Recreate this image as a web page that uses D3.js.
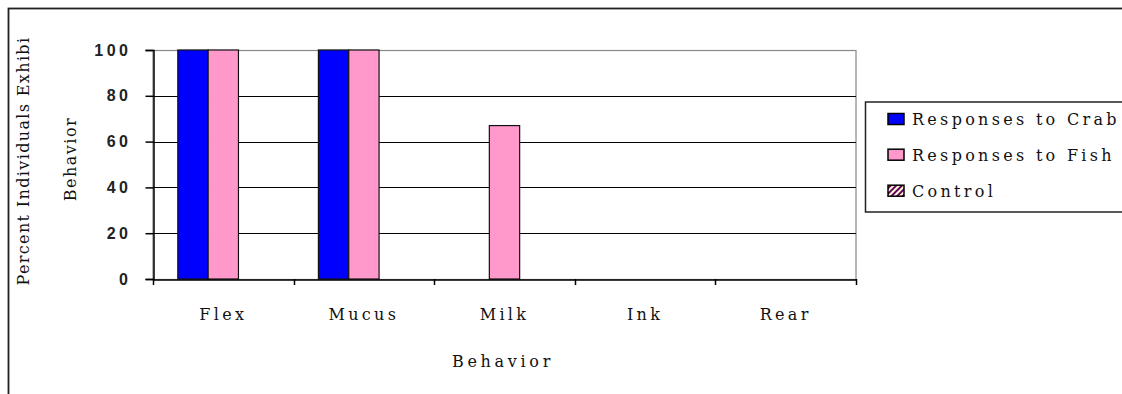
<!DOCTYPE html>
<html>
<head>
<meta charset="utf-8">
<script src="https://cdn.jsdelivr.net/npm/d3@7"></script>
<style>
  html, body { margin: 0; padding: 0; background: #fff; }
  svg { display: block; }
</style>
</head>
<body>
<svg id="chart" width="1122" height="394"></svg>
<script>
const categories = ["Flex", "Mucus", "Milk", "Ink", "Rear"];
const seriesNames = ["Responses to Crab", "Responses to Fish", "Control"];
const crabValues = [100, 100, 0, 0, 0];
const fishValues = [100, 100, 67, 0, 0];
const controlValues = [0, 0, 0, 0, 0];
const yTicks = [0, 20, 40, 60, 80, 100];

const seriesValues = [crabValues, fishValues, controlValues];
const SERIF = "DejaVu Serif, serif";

const svg = d3.select("#chart");
const defs = svg.append("defs");
const pat = defs.append("pattern")
  .attr("id", "hatch").attr("patternUnits", "userSpaceOnUse")
  .attr("width", 4).attr("height", 4).attr("patternTransform", "rotate(45)");
pat.append("rect").attr("width", 4).attr("height", 4).attr("fill", "#FFFFCC");
pat.append("rect").attr("width", 2).attr("height", 4).attr("fill", "#660066");

const fills = ["#0000FF", "#FF99CC", "url(#hatch)"];

// outer chart border
svg.append("rect").attr("x", 8.5).attr("y", 8.5).attr("width", 1130).attr("height", 400)
  .attr("fill", "none").attr("stroke", "#222").attr("stroke-width", 1.8);

const pLeft = 153, pRight = 856, pTop = 50, pBottom = 279;

const x = d3.scaleBand().domain(categories).range([pLeft, pRight])
  .paddingInner(0.353).paddingOuter(0.1765);
const xs = d3.scaleBand().domain(d3.range(seriesNames.length)).range([0, x.bandwidth()]);
const y = d3.scaleLinear().domain([0, 100]).range([pBottom, pTop]);

// plot area border (gray)
svg.append("rect").attr("x", pLeft).attr("y", pTop + 0.5).attr("width", pRight - pLeft).attr("height", pBottom - pTop)
  .attr("fill", "none").attr("stroke", "#888").attr("stroke-width", 1.2);

// gridlines
svg.append("g").selectAll("line").data(yTicks.filter(t => t > 0 && t < 100)).join("line")
  .attr("x1", pLeft).attr("x2", pRight)
  .attr("y1", d => Math.round(y(d)) + 0.5).attr("y2", d => Math.round(y(d)) + 0.5)
  .attr("stroke", "#000").attr("stroke-width", 1.2);

// bars
categories.forEach((c, i) => {
  seriesValues.forEach((vals, s) => {
    const v = vals[i];
    if (v <= 0) return;
    svg.append("rect")
      .attr("x", x(c) + xs(s)).attr("width", xs.bandwidth())
      .attr("y", y(v)).attr("height", y(0) - y(v))
      .attr("fill", fills[s]).attr("stroke", "#111").attr("stroke-width", 1.2);
  });
});

// y axis
const yAxis = svg.append("g").attr("transform", `translate(${pLeft + 0.5},0)`)
  .call(d3.axisLeft(y).tickValues(yTicks).tickSize(8).tickPadding(14).tickFormat(d3.format("d")));
yAxis.select(".domain").attr("stroke", "#000").attr("stroke-width", 1.5);
yAxis.selectAll(".tick line").attr("stroke", "#000").attr("stroke-width", 1.5);
yAxis.selectAll("text").attr("font-family", "Liberation Sans, Arial, sans-serif")
  .attr("font-size", 16).attr("font-weight", "bold").attr("fill", "#222")
  .attr("letter-spacing", 3.5);

// x axis
const xAxis = svg.append("g").attr("transform", `translate(0,${pBottom + 0.5})`)
  .call(d3.axisBottom(x).tickSize(0).tickPadding(29));
xAxis.select(".domain").attr("stroke", "#000").attr("stroke-width", 1.5);
xAxis.selectAll("text").attr("font-family", SERIF)
  .attr("font-size", 16).attr("fill", "#111").attr("letter-spacing", 3.3);
// boundary ticks between categories
const bounds = d3.range(categories.length + 1).map(i => pLeft + i * x.step());
svg.append("g").selectAll("line").data(bounds).join("line")
  .attr("x1", d => Math.round(d) + 0.5).attr("x2", d => Math.round(d) + 0.5)
  .attr("y1", pBottom).attr("y2", pBottom + 6)
  .attr("stroke", "#000").attr("stroke-width", 1.5);

// axis titles
svg.append("text").attr("x", 503).attr("y", 367).attr("text-anchor", "middle")
  .attr("font-family", SERIF).attr("font-size", 16).attr("fill", "#111")
  .attr("letter-spacing", 3.7).text("Behavior");
svg.append("text").attr("transform", "translate(29,161) rotate(-90)").attr("text-anchor", "middle")
  .attr("font-family", SERIF).attr("font-size", 16).attr("fill", "#111")
  .attr("letter-spacing", 1.36).text("Percent Individuals Exhibi");
svg.append("text").attr("transform", "translate(76,159) rotate(-90)").attr("text-anchor", "middle")
  .attr("font-family", SERIF).attr("font-size", 16).attr("fill", "#111")
  .attr("letter-spacing", 1.5).text("Behavior");

// legend
const lg = svg.append("g");
lg.append("rect").attr("x", 865.5).attr("y", 102).attr("width", 300).attr("height", 110)
  .attr("fill", "#fff").attr("stroke", "#222").attr("stroke-width", 1.5);
const ly = [119, 154.7, 190.7];
seriesNames.forEach((n, i) => {
  lg.append("rect").attr("x", 888).attr("y", ly[i] - 5.5).attr("width", 16).attr("height", 11)
    .attr("fill", fills[i]).attr("stroke", "#000").attr("stroke-width", 1.5);
  lg.append("text").attr("x", 912).attr("y", ly[i] + 6)
    .attr("font-family", SERIF).attr("font-size", 16).attr("fill", "#111")
    .attr("letter-spacing", 3.3).text(n);
});
</script>
</body>
</html>
